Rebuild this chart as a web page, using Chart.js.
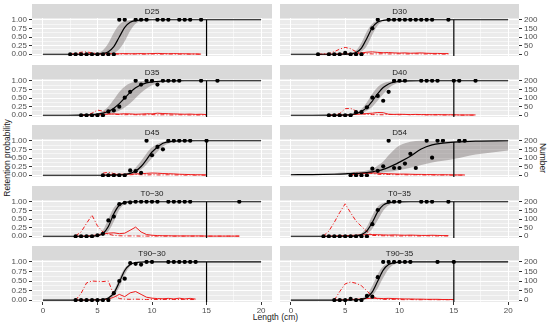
<!DOCTYPE html>
<html><head><meta charset="utf-8">
<script src="https://cdn.jsdelivr.net/npm/chart.js@4.4.1/dist/chart.umd.min.js"></script>
<style>
html,body{margin:0;padding:0;background:#fff;}
#wrap{position:relative;width:550px;height:327px;overflow:hidden;font-family:'Liberation Sans',Arial,sans-serif;}
#wrap canvas{position:absolute;}
.t{position:absolute;color:#222;font-size:8.5px;white-space:nowrap;line-height:1;}
</style></head><body><div id="wrap">
<div class="t" style="left:32px;width:487px;top:313px;text-align:center;">Length (cm)</div>
<div class="t" style="left:7px;top:158px;transform:translate(-50%,-50%) rotate(-90deg);">Retention probability</div>
<div class="t" style="left:543px;top:158px;transform:translate(-50%,-50%) rotate(90deg);">Number</div>
</div>
<script>
// ---------- axis ticks ----------
const xMajor = [0, 5, 10, 15, 20];
const xGrid = [0, 2.5, 5, 7.5, 10, 12.5, 15, 17.5, 20];
const yMajor = [0, 0.25, 0.5, 0.75, 1];
const yGrid = [0, 0.125, 0.25, 0.375, 0.5, 0.625, 0.75, 0.875, 1];
const numberTicks = [0, 50, 100, 150, 200];
const cutoffLength = 15;

// ---------- fitted curves (x grid shared) ----------
const curveX = [0, 2, 4, 5, 5.5, 6, 6.5, 7, 7.5, 8, 8.5, 9, 9.5, 10, 11, 12, 13, 14, 15, 17, 20];

const D25_fit = [0,0,0.001,0.007,0.023,0.076,0.223,0.5,0.777,0.924,0.977,0.993,0.998,1,1,1,1,1,1,1,1];
const D25_hi  = [0,0,0.003,0.037,0.119,0.321,0.622,0.852,0.953,0.986,0.996,0.999,1,1,1,1,1,1,1,1,1];
const D25_lo  = [0,0,0,0.001,0.004,0.014,0.047,0.148,0.378,0.679,0.881,0.963,0.989,0.997,1,1,1,1,1,1,1];

const D30_fit = [0,0,0,0.004,0.014,0.053,0.181,0.466,0.775,0.932,0.982,0.995,0.999,1,1,1,1,1,1,1,1];
const D30_hi  = [0,0,0.001,0.008,0.031,0.113,0.334,0.666,0.887,0.969,0.992,0.998,1,1,1,1,1,1,1,1,1];
const D30_lo  = [0,0,0,0.001,0.005,0.021,0.078,0.25,0.568,0.839,0.954,0.988,0.997,1,1,1,1,1,1,1,1];

const D35_fit = [0,0.001,0.009,0.033,0.063,0.116,0.206,0.337,0.5,0.663,0.794,0.884,0.937,0.967,0.991,0.998,1,1,1,1,1];
const D35_hi  = [0.001,0.003,0.015,0.052,0.121,0.254,0.455,0.673,0.835,0.926,0.968,0.987,0.995,0.998,1,1,1,1,1,1,1];
const D35_lo  = [0,0,0.004,0.012,0.023,0.042,0.076,0.133,0.223,0.349,0.5,0.651,0.777,0.867,0.958,0.988,0.996,0.999,1,1,1];

const D40_fit = [0,0,0.002,0.009,0.021,0.049,0.109,0.227,0.413,0.628,0.802,0.907,0.959,0.982,0.997,1,1,1,1,1,1];
const D40_hi  = [0,0,0.002,0.011,0.029,0.076,0.182,0.378,0.622,0.818,0.924,0.971,0.989,0.996,1,1,1,1,1,1,1];
const D40_lo  = [0,0,0.001,0.006,0.013,0.029,0.063,0.13,0.25,0.426,0.618,0.782,0.889,0.947,0.989,0.998,1,1,1,1,1];

const D45_fit = [0,0,0,0,0.001,0.002,0.004,0.009,0.022,0.053,0.121,0.253,0.455,0.673,0.926,0.987,0.998,1,1,1,1];
const D45_hi  = [0,0,0,0.001,0.001,0.003,0.008,0.019,0.045,0.103,0.221,0.411,0.632,0.808,0.962,0.994,1,1,1,1,1];
const D45_lo  = [0,0,0,0,0.001,0.002,0.004,0.008,0.018,0.039,0.083,0.168,0.31,0.5,0.832,0.961,0.992,0.998,1,1,1];

const D54_fit = [0.015,0.02,0.03,0.04,0.05,0.055,0.065,0.08,0.1,0.13,0.17,0.23,0.3,0.38,0.55,0.76,0.88,0.93,0.96,0.99,1];
const D54_hi  = [0.03,0.04,0.06,0.08,0.09,0.1,0.12,0.14,0.18,0.28,0.4,0.58,0.74,0.86,0.97,1,1,1,1,1,1];
const D54_lo  = [0,0.005,0.01,0.015,0.02,0.025,0.03,0.04,0.05,0.06,0.08,0.1,0.12,0.15,0.22,0.3,0.37,0.42,0.47,0.6,0.72];

const T030_fit = [0,0,0.001,0.017,0.077,0.283,0.65,0.898,0.976,0.995,0.999,1,1,1,1,1,1,1,1,1,1];
const T030_hi  = [0,0,0.002,0.043,0.175,0.5,0.825,0.957,0.99,0.998,1,1,1,1,1,1,1,1,1,1,1];
const T030_lo  = [0,0,0,0.008,0.036,0.142,0.426,0.769,0.937,0.985,0.997,1,1,1,1,1,1,1,1,1,1];

const T035_fit = [0,0,0,0.001,0.004,0.014,0.048,0.156,0.404,0.713,0.901,0.971,0.992,0.998,1,1,1,1,1,1,1];
const T035_hi  = [0,0,0,0.001,0.006,0.022,0.085,0.273,0.603,0.861,0.962,0.99,0.998,1,1,1,1,1,1,1,1];
const T035_lo  = [0,0,0,0.001,0.003,0.009,0.027,0.082,0.22,0.471,0.738,0.899,0.965,0.989,0.999,1,1,1,1,1,1];

const T9030_fit = [0,0,0,0.004,0.014,0.053,0.181,0.466,0.775,0.932,0.982,0.995,0.999,1,1,1,1,1,1,1,1];
const T9030_hi  = [0,0,0,0.005,0.021,0.078,0.25,0.568,0.839,0.954,0.988,0.997,1,1,1,1,1,1,1,1,1];
const T9030_lo  = [0,0,0,0.002,0.008,0.031,0.113,0.334,0.666,0.887,0.969,0.992,0.998,1,1,1,1,1,1,1,1];

const T9035_fit = [0,0,0,0,0.002,0.005,0.02,0.069,0.214,0.5,0.786,0.931,0.98,0.995,1,1,1,1,1,1,1];
const T9035_hi  = [0,0,0,0.001,0.003,0.012,0.043,0.14,0.373,0.686,0.889,0.967,0.991,0.998,1,1,1,1,1,1,1];
const T9035_lo  = [0,0,0,0,0.001,0.005,0.014,0.043,0.124,0.31,0.585,0.817,0.931,0.978,0.998,1,1,1,1,1,1];

// ---------- observed retention (points) ----------
const D25_ptX = [2.5,3,3.5,4,4.5,5,5.5,6,6.5,7,7.5,8.5,9,9.5,10.5,11,11.5,12.5,13,13.5,14.5];
const D25_ptY = [0,0,0,0,0,0,0,0,0,1,1,1,1,1,1,1,1,1,1,1,1];
const D30_ptX = [2.5,3.5,4,4.5,5,5.5,6,6.5,7.5,8,9,9.5,10,10.5,11,11.5,12,12.5,13,14.5];
const D30_ptY = [0,0,0,0,0.04,0,0,0,0.75,1,1,1,1,1,1,1,1,1,1,1];
const D35_ptX = [3.5,4,4.5,5,5.5,6,6.5,7,7.5,8,8.5,9,9.5,10,10.5,11,11.5,12,12.5,14.5,16];
const D35_ptY = [0,0,0,0,0,0.11,0.14,0.25,0.51,0.68,1,0.89,1,1,0.89,1,1,1,1,1,1];
const D40_ptX = [3.5,4,4.5,5,5.5,6,6.5,7,7.5,8,8.5,9,9.5,10,10.5,12,12.5,13,13.5,15,15.5,17];
const D40_ptY = [0,0,0,0,0,0.09,0.09,0.23,0.51,0.56,0.42,0.68,1,1,1,1,1,1,1,1,1,1];
const D45_ptX = [5.5,6,6.5,7,7.5,8,8.5,9,9.5,10,10.5,11,11.5,12,12.5,13,13.5,15];
const D45_ptY = [0,0,0,0,0,0.14,0.12,0.07,1,0.58,0.82,0.75,1,1,1,1,1,1];
const D54_ptX = [5.5,6,6.5,7,7.5,8,8.5,9,9.5,10,10.5,11,11.5,12.5,13,13.5,14,15.5,16];
const D54_ptY = [0,0,0,0,0.19,0.13,0.26,1,0.21,0.21,0.34,0.62,0.21,1,0.51,1,1,1,1];
const T030_ptX = [3,3.5,4,4.5,5,5.5,6,6.5,7,7.5,8,8.5,9,9.5,10,10.5,11.5,12,12.5,13,13.5,18];
const T030_ptY = [0,0,0,0,0.03,0.07,0.46,0.57,0.93,0.97,0.98,1,1,1,1,1,1,1,1,1,1,1];
const T035_ptX = [3,3.5,4,4.5,5,5.5,6,6.5,7,7.5,8,9,9.5,10,12,12.5,13,14.5];
const T035_ptY = [0,0,0,0,0,0,0,0,0,0.35,0.76,1,1,1,1,1,1,1];
const T9030_ptX = [3,3.5,4,4.5,5,5.5,6,6.5,7,7.5,8,8.5,9,9.5,10,11.5,12,12.5,13,13.5,14];
const T9030_ptY = [0,0,0,0,0,0,0,0.18,0.5,0.56,0.97,0.95,0.93,1,1,1,1,1,1,1,1];
const T9035_ptX = [4,4.5,5,5.5,6,6.5,7,7.5,8,8.5,9,9.5,10,10.5,11,13.5,15];
const T9035_ptY = [0,0,0,0.03,0,0,0.11,0.09,0.6,1,1,1,1,1,1,1,1];

// ---------- numbers by length (red lines) ----------
const D25_len = [2.5,3,3.5,4,4.5,5,5.5,6,6.5,7,7.5,8,8.5,9,9.5,10,10.5,11,11.5,12,12.5,13,13.5,14,14.5];
const D25_solid = [0,1,1,2,2,2,3,3,4,3,4,3,3,4,3,4,5,4,3,4,3,3,2,2,1];
const D25_dash  = [0,4,12,14,8,4,2,1,1,1,2,1,2,1,1,2,1,1,2,1,1,1,1,1,0];
const D30_len = [2.5,3,3.5,4,4.5,5,5.5,6,6.5,7,7.5,8,8.5,9,9.5,10,10.5,11,11.5,12,12.5,13,13.5,14,14.5];
const D30_solid = [0,0,1,1,2,2,3,4,8,12,14,11,9,10,8,7,8,6,7,8,6,5,5,4,4];
const D30_dash  = [0,1,5,15,30,40,32,15,6,3,2,2,3,2,2,3,2,2,3,2,2,2,1,1,1];
const D35_len = [3.5,4,4.5,5,5.5,6,6.5,7,7.5,8,8.5,9,9.5,10,10.5,11,11.5,12,12.5,13,13.5,14,14.5,15];
const D35_solid = [0,1,2,3,5,6,8,7,9,8,6,7,9,8,12,10,9,8,7,6,7,5,6,4];
const D35_dash  = [0,2,12,30,24,12,6,4,3,4,3,2,3,4,2,3,2,2,3,2,2,1,2,1];
const D40_len = [3.5,4,4.5,5,5.5,6,6.5,7,7.5,8,8.5,9,9.5,10,10.5,11,11.5,12,12.5,13,13.5,14,14.5,15,15.5,16,16.5,17];
const D40_solid = [0,1,1,2,3,5,7,10,12,16,15,6,5,6,5,4,5,4,4,3,4,3,3,3,2,2,2,2];
const D40_dash  = [0,2,10,38,40,25,10,5,4,3,3,5,4,3,5,3,4,3,2,3,2,2,2,2,1,1,1,1];
const D45_len = [5.5,6,6.5,7,7.5,8,8.5,9,9.5,10,10.5,11,11.5,12,12.5,13,13.5,14,14.5,15];
const D45_solid = [2,3,4,5,6,7,8,9,11,13,12,10,9,8,6,5,4,3,3,2];
const D45_dash  = [12,18,10,6,4,3,5,3,2,3,2,2,3,2,2,1,2,1,1,1];
const D54_len = [5.5,6,6.5,7,7.5,8,8.5,9,9.5,10,10.5,11,11.5,12,12.5,13,13.5,14,14.5,15,15.5,16];
const D54_solid = [3,6,9,12,14,12,10,9,8,7,7,6,5,5,4,4,3,3,3,2,2,2];
const D54_dash  = [8,14,12,15,10,6,4,5,3,4,3,2,3,2,2,2,1,2,1,1,1,1];
const T030_len = [3,3.5,4,4.5,5,5.5,6,6.5,7,7.5,8,8.5,9,9.5,10,10.5,11,11.5,12,12.5,13,13.5,14,14.5,15,15.5,16,16.5,17,17.5,18];
const T030_solid = [0,1,2,4,8,12,18,20,15,18,35,53,25,10,6,4,3,3,2,2,2,2,2,2,1,1,1,1,1,1,1];
const T030_dash  = [3,25,75,122,60,25,12,5,3,2,2,2,1,1,1,1,1,1,1,1,1,1,1,1,1,1,1,1,1,1,1];
const T035_len = [3,3.5,4,4.5,5,5.5,6,6.5,7,7.5,8,8.5,9,9.5,10,10.5,11,11.5,12,12.5,13,13.5,14,14.5];
const T035_solid = [0,1,2,3,4,5,6,8,9,10,9,8,7,8,7,6,7,6,5,5,6,5,4,4];
const T035_dash  = [2,30,81,138,188,136,88,57,28,5,4,3,3,2,2,2,3,2,2,3,2,2,2,2];
const T9030_len = [3,3.5,4,4.5,5,5.5,6,6.5,7,7.5,8,8.5,9,9.5,10,10.5,11,11.5,12,12.5,13,13.5,14];
const T9030_solid = [0,0,1,1,2,3,5,15,30,18,38,45,30,15,10,8,7,9,6,10,6,9,5];
const T9030_dash  = [0,35,90,100,98,97,100,25,8,5,4,5,4,3,4,3,3,4,3,3,4,3,3];
const T9035_len = [4,4.5,5,5.5,6,6.5,7,7.5,8,8.5,9,9.5,10,10.5,11,11.5,12,12.5,13,13.5,14,14.5,15];
const T9035_solid = [0,1,2,3,4,6,8,10,9,8,9,8,7,6,6,5,5,4,4,4,3,3,3];
const T9035_dash  = [0,45,85,95,88,75,48,20,6,4,3,4,3,2,3,2,2,3,2,2,2,2,2];

// ---------- panel table ----------
const panels = [
  {title:'D25',   col:0,row:0, fit:D25_fit,  hi:D25_hi,  lo:D25_lo,  ptX:D25_ptX,  ptY:D25_ptY,  len:D25_len,  solid:D25_solid,  dash:D25_dash},
  {title:'D30',   col:1,row:0, fit:D30_fit,  hi:D30_hi,  lo:D30_lo,  ptX:D30_ptX,  ptY:D30_ptY,  len:D30_len,  solid:D30_solid,  dash:D30_dash},
  {title:'D35',   col:0,row:1, fit:D35_fit,  hi:D35_hi,  lo:D35_lo,  ptX:D35_ptX,  ptY:D35_ptY,  len:D35_len,  solid:D35_solid,  dash:D35_dash},
  {title:'D40',   col:1,row:1, fit:D40_fit,  hi:D40_hi,  lo:D40_lo,  ptX:D40_ptX,  ptY:D40_ptY,  len:D40_len,  solid:D40_solid,  dash:D40_dash},
  {title:'D45',   col:0,row:2, fit:D45_fit,  hi:D45_hi,  lo:D45_lo,  ptX:D45_ptX,  ptY:D45_ptY,  len:D45_len,  solid:D45_solid,  dash:D45_dash},
  {title:'D54',   col:1,row:2, fit:D54_fit,  hi:D54_hi,  lo:D54_lo,  ptX:D54_ptX,  ptY:D54_ptY,  len:D54_len,  solid:D54_solid,  dash:D54_dash},
  {title:'T0\u221230',  col:0,row:3, fit:T030_fit, hi:T030_hi, lo:T030_lo, ptX:T030_ptX, ptY:T030_ptY, len:T030_len, solid:T030_solid, dash:T030_dash},
  {title:'T0\u221235',  col:1,row:3, fit:T035_fit, hi:T035_hi, lo:T035_lo, ptX:T035_ptX, ptY:T035_ptY, len:T035_len, solid:T035_solid, dash:T035_dash},
  {title:'T90\u221230', col:0,row:4, fit:T9030_fit,hi:T9030_hi,lo:T9030_lo,ptX:T9030_ptX,ptY:T9030_ptY,len:T9030_len,solid:T9030_solid,dash:T9030_dash},
  {title:'T90\u221235', col:1,row:4, fit:T9035_fit,hi:T9035_hi,lo:T9035_lo,ptX:T9035_ptX,ptY:T9035_ptY,len:T9035_len,solid:T9035_solid,dash:T9035_dash}
];

// ---------- layout / style ----------
const FONT = "'Liberation Sans', Arial, sans-serif";
const STRIP_H = 14, PLOT_H = 42, XAXIS_H = 14;
const stripTops = [4, 65, 125, 186, 246];
const Y_MIN = -0.05, Y_MAX = 1.05, N_MIN = -10, N_MAX = 210;
const BAND = 'rgba(105,95,95,0.4)';
const RED = '#EE1C1C';
const TICK_TXT = '#4D4D4D';

function isIn(arr, v){ return arr.some(a => Math.abs(a - v) < 1e-9); }
function gridOpts(majors, drawTicks){
  return {
    color: c => (c.tick && isIn(majors, c.tick.value)) ? '#FFFFFF' : 'rgba(255,255,255,0.55)',
    lineWidth: 1,
    drawTicks: drawTicks,
    tickLength: 3,
    tickWidth: 1,
    tickColor: c => (c.tick && isIn(majors, c.tick.value)) ? '#333333' : 'rgba(0,0,0,0)'
  };
}
function noPad(s){ s.paddingTop = 0; s.paddingBottom = 0; s.paddingLeft = 0; s.paddingRight = 0; }
const xy = (xs, ys) => xs.map((x, i) => ({x: x, y: ys[i]}));

const stripPlugin = {
  id: 'strip',
  beforeDraw(chart, args, opts) {
    const ctx = chart.ctx, a = chart.chartArea;
    ctx.save();
    ctx.fillStyle = '#EBEBEB';
    ctx.fillRect(a.left, a.top, a.right - a.left, a.bottom - a.top);
    ctx.fillStyle = '#D9D9D9';
    ctx.fillRect(a.left, a.top - STRIP_H, a.right - a.left, STRIP_H);
    ctx.fillStyle = '#1A1A1A';
    ctx.font = '8px ' + FONT;
    ctx.textAlign = 'center';
    ctx.textBaseline = 'middle';
    ctx.fillText(opts.label, (a.left + a.right) / 2, a.top - STRIP_H / 2 + 0.5);
    ctx.restore();
  }
};

const wrap = document.getElementById('wrap');
panels.forEach(p => {
  const left = p.col === 0;
  const bottom = p.row === 4;
  const cv = document.createElement('canvas');
  const w = left ? 276 : 274;
  const h = STRIP_H + PLOT_H + (bottom ? XAXIS_H : 0);
  cv.width = w; cv.height = h;
  cv.style.width = w + 'px'; cv.style.height = h + 'px';
  cv.style.left = (left ? 0 : 276) + 'px';
  cv.style.top = stripTops[p.row] + 'px';
  wrap.appendChild(cv);

  const cutIdx = curveX.indexOf(cutoffLength);
  new Chart(cv, {
    type: 'line',
    data: {
      datasets: [
        {label:'lower', data: xy(curveX, p.lo), borderColor:'rgba(0,0,0,0)', borderWidth:1, pointRadius:0, fill:false, cubicInterpolationMode:'monotone', order:10},
        {label:'upper', data: xy(curveX, p.hi), borderColor:'rgba(0,0,0,0)', borderWidth:1, pointRadius:0, fill:'-1', backgroundColor: BAND, cubicInterpolationMode:'monotone', order:10},
        {label:'number', yAxisID:'yN', data: xy(p.len, p.solid), borderColor: RED, borderWidth:1, pointRadius:0, fill:false, order:8},
        {label:'number2', yAxisID:'yN', data: xy(p.len, p.dash), borderColor: RED, borderWidth:1, borderDash:[4,2,1,2], pointRadius:0, fill:false, order:8},
        {label:'fit', data: xy(curveX, p.fit), borderColor:'#000', borderWidth:1.2, pointRadius:0, fill:false, cubicInterpolationMode:'monotone', order:4},
        {label:'cut', data: [{x: cutoffLength, y: Y_MIN}, {x: cutoffLength, y: p.fit[cutIdx]}], borderColor:'#000', borderWidth:1.2, pointRadius:0, fill:false, order:4},
        {label:'obs', data: xy(p.ptX, p.ptY), showLine:false, pointRadius:2.1, pointBackgroundColor:'#000', pointBorderWidth:0, backgroundColor:'#000', borderColor:'#000', order:1}
      ]
    },
    options: {
      responsive: false, animation: false, devicePixelRatio: 1, events: [],
      layout: {padding: {top: STRIP_H, bottom: 0, left: left ? 0 : 2, right: left ? 3 : 0}},
      plugins: {legend: {display:false}, tooltip: {enabled:false}, strip: {label: p.title}},
      scales: {
        x: {
          type:'linear', min:-1, max:21,
          afterBuildTicks: s => { s.ticks = xGrid.map(v => ({value: v})); },
          afterFit: s => { s.height = bottom ? XAXIS_H : 0; noPad(s); },
          border: {display:false},
          grid: gridOpts(xMajor, bottom),
          ticks: {display: bottom, autoSkip:false, maxRotation:0, padding:1, color: TICK_TXT,
                  font:{family: FONT, size: 8}, callback: v => isIn(xMajor, v) ? String(v) : ''}
        },
        y: {
          type:'linear', position:'left', min: Y_MIN, max: Y_MAX,
          afterBuildTicks: s => { s.ticks = yGrid.map(v => ({value: v})); },
          afterFit: s => { s.width = left ? 32 : 0; noPad(s); },
          border: {display:false},
          grid: gridOpts(yMajor, left),
          ticks: {display: left, autoSkip:false, padding:2, color: TICK_TXT,
                  font:{family: FONT, size: 8}, callback: v => isIn(yMajor, v) ? v.toFixed(2) : ''}
        },
        yN: {
          type:'linear', position:'right', min: N_MIN, max: N_MAX, display: !left,
          afterBuildTicks: s => { s.ticks = numberTicks.map(v => ({value: v})); },
          afterFit: s => { s.width = left ? 0 : 31; noPad(s); },
          border: {display:false},
          grid: {drawOnChartArea:false, drawTicks:true, tickLength:3, tickWidth:1, tickColor:'#333333'},
          ticks: {autoSkip:false, padding:2, color: TICK_TXT, font:{family: FONT, size: 8},
                  callback: v => String(v)}
        }
      }
    },
    plugins: [stripPlugin]
  });
});
</script>
</body></html>
